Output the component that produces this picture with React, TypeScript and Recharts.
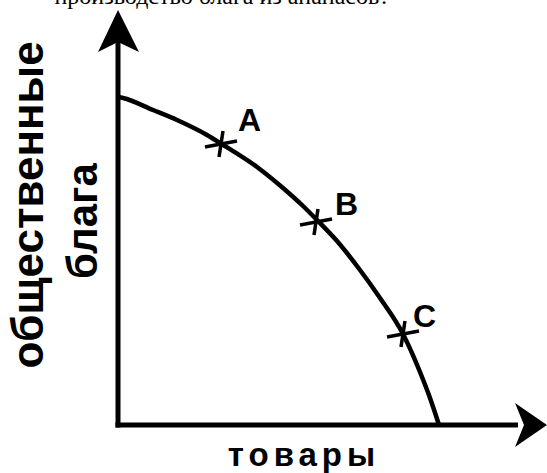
import React from "react";
import { ComposedChart, Line, Scatter, XAxis, YAxis, ReferenceLine, ReferenceDot } from "recharts";

// production possibility curve (1 unit ~ 1px)
const curveGoods = [0, 5, 35, 59, 89, 102, 139, 165, 185, 199, 219, 242, 262, 285, 302, 312, 321];
const curvePublic = [328, 327, 315, 305, 290, 282, 258, 237, 219, 205, 184, 155, 127, 91, 53, 27, 0];

const pointLabels = ["A", "B", "C"];
const pointGoods = [103, 198, 285];
const pointPublic = [281, 203, 91];

const xTitle = "товары";
const yTitle = ["общественные", "блага"];
const topText = "производство блага из ананасов?";

const curveData = curveGoods.map((g, i) => ({ goods: g, public: curvePublic[i] }));
const pointData = pointLabels.map((label, i) => ({ label, goods: pointGoods[i], public: pointPublic[i] }));

const SANS = '"Liberation Sans", Arial, sans-serif';

// label offsets next to each marker
const labelOffset: Record<string, [number, number]> = {
  A: [17, -13],
  B: [19, -7],
  C: [10, -7],
};

const CrossMark = (props: any) => {
  const { cx, cy, payload } = props;
  const [dx, dy] = labelOffset[payload.label] || [14, -8];
  return (
    <g>
      <line x1={cx - 16} y1={cy + 3} x2={cx + 16} y2={cy - 3} stroke="#000" strokeWidth={3.5} />
      <line x1={cx + 2} y1={cy - 13} x2={cx - 2} y2={cy + 13} stroke="#000" strokeWidth={3.5} />
      <text x={cx + dx} y={cy + dy} fontFamily={SANS} fontWeight="bold" fontSize={32} fill="#000">
        {payload.label}
      </text>
    </g>
  );
};

const XArrow = (props: any) => {
  const { cx, cy } = props;
  return <polygon points={`${cx},${cy} ${cx - 32},${cy - 22} ${cx - 23},${cy} ${cx - 32},${cy + 22}`} fill="#000" />;
};

const YArrow = (props: any) => {
  const { cx, cy } = props;
  return <polygon points={`${cx},${cy} ${cx - 20},${cy + 42} ${cx},${cy + 32} ${cx + 21},${cy + 42}`} fill="#000" />;
};

export default function App() {
  return (
    <div style={{ position: "absolute", left: 0, top: 0, width: 547, height: 473, overflow: "hidden", background: "#fff" }}>
      <ComposedChart width={547} height={473} margin={{ top: 0, right: 0, bottom: 0, left: 0 }}>
        <XAxis type="number" dataKey="goods" domain={[-118, 429]} hide allowDataOverflow />
        <YAxis type="number" dataKey="public" domain={[-48, 425]} hide allowDataOverflow />
        <ReferenceLine segment={[{ x: 0, y: -2.5 }, { x: 0, y: 385 }]} stroke="#000" strokeWidth={5} ifOverflow="visible" />
        <ReferenceLine segment={[{ x: -2.5, y: 0 }, { x: 400, y: 0 }]} stroke="#000" strokeWidth={5} ifOverflow="visible" />
        <ReferenceDot x={429} y={0} shape={XArrow} ifOverflow="visible" />
        <ReferenceDot x={0} y={415} shape={YArrow} ifOverflow="visible" />
        <Line
          data={curveData}
          dataKey="public"
          type="monotone"
          stroke="#000"
          strokeWidth={4.5}
          dot={false}
          activeDot={false}
          isAnimationActive={false}
        />
        <Scatter data={pointData} dataKey="public" shape={CrossMark} isAnimationActive={false} />
      </ComposedChart>
      <svg width={547} height={473} style={{ position: "absolute", left: 0, top: 0, pointerEvents: "none" }}>
        <text x={390} y={4} textAnchor="end" fontFamily='"Liberation Serif", "Times New Roman", serif' fontSize={24} fill="#000">
          {topText}
        </text>
        <text
          x={43}
          y={205}
          transform="rotate(-90, 43, 205)"
          textAnchor="middle"
          fontFamily={SANS}
          fontWeight="bold"
          fontSize={44}
          fill="#000"
        >
          {yTitle[0]}
        </text>
        <text
          x={97}
          y={221}
          transform="rotate(-90, 97, 221)"
          textAnchor="middle"
          fontFamily={SANS}
          fontWeight="bold"
          fontSize={42}
          fill="#000"
        >
          {yTitle[1]}
        </text>
        <text x={304} y={466} textAnchor="middle" fontFamily={SANS} fontWeight="bold" fontSize={33} letterSpacing={5} fill="#000">
          {xTitle}
        </text>
      </svg>
    </div>
  );
}
